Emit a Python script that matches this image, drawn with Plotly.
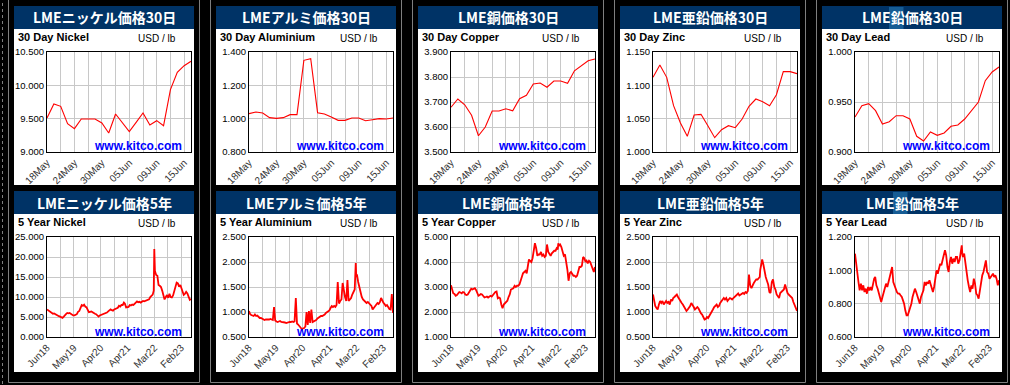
import plotly.graph_objects as go

W, H = 1010, 385

# ---------------- data ----------------
days_30 = ["18May", "19May", "22May", "23May", "24May", "25May", "26May", "29May",
           "30May", "31May", "01Jun", "02Jun", "05Jun", "06Jun", "07Jun", "08Jun",
           "09Jun", "12Jun", "13Jun", "14Jun", "15Jun", "16Jun"]

nickel_30 = [9.51, 9.72, 9.685, 9.425, 9.35, 9.495, 9.495, 9.495, 9.435, 9.285, 9.57,
             9.435, 9.305, 9.445, 9.585, 9.405, 9.47, 9.395, 9.935, 10.195, 10.295, 10.36]
aluminium_30 = [1.03, 1.04, 1.034, 1.006, 1.002, 1.006, 1.024, 1.024, 1.35, 1.36, 1.036,
                1.028, 1.01, 0.99, 0.99, 1.004, 1.004, 0.988, 0.994, 1.0, 0.998, 1.004]
copper_30 = [3.679, 3.712, 3.689, 3.647, 3.565, 3.6, 3.664, 3.664, 3.673, 3.665, 3.713,
             3.727, 3.772, 3.776, 3.759, 3.784, 3.784, 3.775, 3.825, 3.844, 3.865, 3.872]
zinc_30 = [1.112, 1.1305, 1.112, 1.0695, 1.0435, 1.0235, 1.0555, 1.0565, 1.0395, 1.0215,
           1.0335, 1.0395, 1.0365, 1.0495, 1.0685, 1.0795, 1.0755, 1.0695, 1.086, 1.1205,
           1.1205, 1.1175]
lead_30 = [0.935, 0.9463, 0.9483, 0.9413, 0.928, 0.9303, 0.9363, 0.9363, 0.933, 0.9157,
           0.911, 0.92, 0.9167, 0.919, 0.9257, 0.927, 0.933, 0.9413, 0.95, 0.9713, 0.98, 0.985]

dates_5y = [
    "2018-06-18", "2018-07-01", "2018-07-16", "2018-08-01", "2018-08-16", "2018-09-01",
    "2018-09-16", "2018-10-01", "2018-10-16", "2018-11-01", "2018-11-16", "2018-12-01",
    "2018-12-16",
    "2019-01-01", "2019-01-16", "2019-02-01", "2019-02-16", "2019-03-01", "2019-03-16",
    "2019-04-01", "2019-04-16", "2019-05-01", "2019-05-16", "2019-06-01", "2019-06-16",
    "2019-07-01", "2019-07-16", "2019-08-01", "2019-08-16", "2019-09-01", "2019-09-16",
    "2019-10-01", "2019-10-16", "2019-11-01", "2019-11-16", "2019-12-01", "2019-12-16",
    "2020-01-01", "2020-01-16", "2020-02-01", "2020-02-16", "2020-03-01", "2020-03-16",
    "2020-04-01", "2020-04-16", "2020-05-01", "2020-05-16", "2020-06-01", "2020-06-16",
    "2020-07-01", "2020-07-16", "2020-08-01", "2020-08-16", "2020-09-01", "2020-09-16",
    "2020-10-01", "2020-10-16", "2020-11-01", "2020-11-16", "2020-12-01", "2020-12-16",
    "2021-01-01", "2021-01-16", "2021-02-01", "2021-02-16", "2021-03-01", "2021-03-16",
    "2021-04-01", "2021-04-16", "2021-05-01", "2021-05-16", "2021-06-01", "2021-06-16",
    "2021-07-01", "2021-07-16", "2021-08-01", "2021-08-16", "2021-09-01", "2021-09-16",
    "2021-10-01", "2021-10-16", "2021-11-01", "2021-11-16", "2021-12-01", "2021-12-16",
    "2022-01-01", "2022-01-16", "2022-02-01", "2022-02-16", "2022-03-01", "2022-03-08",
    "2022-03-16", "2022-04-01", "2022-04-16", "2022-05-01", "2022-05-16", "2022-06-01",
    "2022-06-16", "2022-07-01", "2022-07-16", "2022-08-01", "2022-08-16", "2022-09-01",
    "2022-09-16", "2022-10-01", "2022-10-16", "2022-11-01", "2022-11-16", "2022-12-01",
    "2022-12-16",
    "2023-01-01", "2023-01-16", "2023-02-01", "2023-02-16", "2023-03-01", "2023-03-16",
    "2023-04-01", "2023-04-16", "2023-05-01", "2023-05-16", "2023-06-01", "2023-06-16",
]

nickel_5y = [
    6.9, 6.7, 6.3, 6.1, 5.9, 5.8, 5.9, 5.7, 5.6, 5.2, 5.2, 5.1, 4.9,
    4.8, 5.1, 5.6, 5.8, 6.0, 5.9, 6.0, 5.8, 5.5, 5.4, 5.4, 5.6, 5.7, 6.3, 6.5, 7.2, 8.0, 7.8, 8.1, 7.6, 7.4, 6.8, 6.2, 6.3,
    6.4, 6.2, 5.9, 5.8, 5.7, 5.3, 5.1, 5.4, 5.5, 5.6, 5.8, 5.9, 6.0, 6.1, 6.4, 6.6, 6.9, 6.7, 6.6, 6.9, 7.0, 7.2, 7.3, 7.8,
    7.6, 8.0, 8.0, 8.6, 8.3, 7.4, 7.4, 7.5, 8.0, 7.9, 8.1, 8.0, 8.3, 8.6, 8.9, 8.7, 8.8, 8.6, 8.8, 9.0, 8.9, 9.0, 9.0, 9.1,
    9.4, 10.0, 10.3, 10.6, 11.6, 22.0, 16.5, 15.5, 15.3, 13.0, 12.8, 12.5, 11.6, 10.0, 9.4, 10.0, 10.5, 9.8, 10.8, 10.0, 9.9, 10.4, 11.5, 12.8, 13.6,
    13.4, 12.6, 13.0, 12.0, 11.0, 10.5, 10.8, 11.3, 10.9, 9.8, 9.3, 9.5,
]
aluminium_5y = [
    1.02, 0.96, 0.94, 0.93, 0.92, 0.95, 0.92, 0.93, 0.91, 0.88, 0.88, 0.87, 0.86,
    0.84, 0.85, 0.85, 0.84, 0.85, 0.86, 0.85, 0.84, 1.10, 0.83, 0.81, 0.80, 0.81, 0.82, 0.80, 0.80, 0.79, 0.79, 0.78, 0.79, 0.79, 0.80, 0.80, 0.81,
    0.80, 0.81, 1.28, 0.77, 0.75, 0.72, 0.67, 0.66, 0.67, 0.68, 0.71, 1.00, 0.74, 1.02, 0.78, 1.05, 0.80, 0.81, 0.82, 0.84, 0.87, 0.89, 0.91, 0.92,
    0.92, 0.93, 0.95, 0.98, 1.00, 1.01, 1.03, 1.08, 1.12, 1.10, 1.12, 1.10, 1.14, 1.60, 1.17, 1.22, 1.25, 1.58, 1.40, 1.30, 1.22, 1.64, 1.22, 1.25,
    1.28, 1.35, 1.42, 1.45, 1.98, 1.70, 1.75, 1.60, 1.50, 1.38, 1.30, 1.25, 1.22, 1.20, 1.18, 1.20, 1.18, 1.15, 1.12, 1.05, 1.08, 1.12, 1.15, 1.18, 1.16,
    1.20, 1.28, 1.22, 1.18, 1.16, 1.12, 1.14, 1.10, 1.06, 1.05, 1.36, 0.98,
]
copper_5y = [
    3.07, 2.85, 2.75, 2.72, 2.65, 2.68, 2.75, 2.80, 2.78, 2.75, 2.80, 2.78, 2.70,
    2.68, 2.70, 2.78, 2.88, 2.93, 2.90, 2.92, 2.95, 2.88, 2.75, 2.65, 2.68, 2.72, 2.70, 2.62, 2.58, 2.60, 2.62, 2.58, 2.62, 2.65, 2.62, 2.68, 2.78,
    2.80, 2.82, 2.55, 2.58, 2.55, 2.30, 2.15, 2.30, 2.35, 2.40, 2.45, 2.60, 2.70, 2.90, 2.92, 2.95, 3.05, 3.00, 3.05, 3.05, 3.10, 3.25, 3.45, 3.55,
    3.60, 3.65, 3.55, 3.80, 4.10, 4.05, 4.00, 4.15, 4.45, 4.75, 4.55, 4.25, 4.30, 4.30, 4.40, 4.25, 4.30, 4.20, 4.25, 4.70, 4.40, 4.30, 4.25, 4.35,
    4.40, 4.45, 4.45, 4.55, 4.50, 4.75, 4.65, 4.70, 4.60, 4.35, 4.25, 4.30, 4.05, 3.70, 3.25, 3.55, 3.60, 3.50, 3.45, 3.45, 3.40, 3.45, 3.70, 3.80, 3.80,
    3.85, 4.20, 4.15, 4.00, 4.05, 3.95, 4.05, 4.00, 3.85, 3.70, 3.60, 3.80,
]
zinc_5y = [
    1.35, 1.25, 1.12, 1.08, 1.05, 1.15, 1.22, 1.18, 1.22, 1.15, 1.20, 1.22, 1.18,
    1.20, 1.15, 1.25, 1.22, 1.28, 1.30, 1.32, 1.35, 1.30, 1.25, 1.20, 1.18, 1.15, 1.10, 1.05, 1.02, 1.05, 1.08, 1.12, 1.18, 1.15, 1.10, 1.05, 1.08,
    1.10, 1.07, 1.00, 0.97, 0.95, 0.90, 0.85, 0.86, 0.90, 0.88, 0.92, 0.95, 1.00, 1.05, 1.10, 1.12, 1.15, 1.10, 1.12, 1.18, 1.22, 1.25, 1.28, 1.25,
    1.28, 1.22, 1.25, 1.28, 1.27, 1.25, 1.28, 1.30, 1.33, 1.35, 1.37, 1.33, 1.35, 1.37, 1.38, 1.36, 1.40, 1.38, 1.42, 1.75, 1.52, 1.48, 1.55, 1.58,
    1.62, 1.65, 1.65, 1.68, 1.70, 1.85, 1.90, 2.05, 1.95, 1.78, 1.70, 1.62, 1.55, 1.40, 1.38, 1.60, 1.65, 1.50, 1.45, 1.35, 1.30, 1.28, 1.38, 1.40, 1.42,
    1.45, 1.55, 1.45, 1.38, 1.35, 1.32, 1.30, 1.28, 1.20, 1.15, 1.10, 1.02,
]
lead_5y = [
    1.10, 1.04, 0.97, 0.93, 0.88, 0.92, 0.88, 0.91, 0.87, 0.89, 0.86, 0.90, 0.88,
    0.90, 0.88, 0.93, 0.95, 0.96, 0.91, 0.89, 0.86, 0.84, 0.81, 0.84, 0.87, 0.89, 0.92, 0.90, 0.94, 0.96, 0.99, 1.02, 0.93, 0.91, 0.88, 0.87, 0.86,
    0.86, 0.85, 0.84, 0.82, 0.80, 0.76, 0.73, 0.73, 0.75, 0.77, 0.80, 0.84, 0.86, 0.89, 0.87, 0.85, 0.82, 0.80, 0.84, 0.86, 0.88, 0.93, 0.91, 0.93,
    0.92, 0.94, 0.91, 0.90, 0.87, 0.90, 0.95, 1.00, 0.98, 1.02, 1.04, 1.03, 1.07, 1.09, 1.12, 1.09, 1.02, 0.99, 1.05, 1.08, 1.04, 1.07, 1.05, 1.08,
    1.08, 1.04, 1.06, 1.10, 1.15, 1.10, 1.08, 1.10, 1.05, 0.97, 0.94, 0.90, 0.87, 0.91, 0.89, 0.95, 0.92, 0.86, 0.85, 0.83, 0.88, 0.93, 0.97, 0.99, 1.02,
    1.06, 0.99, 0.98, 0.95, 0.96, 0.97, 0.98, 0.96, 0.97, 0.95, 0.91, 0.94,
]

titles_30 = ["LMEニッケル価格30日", "LMEアルミ価格30日", "LME銅価格30日", "LME亜鉛価格30日", "LME鉛価格30日"]
titles_5y = ["LMEニッケル価格5年", "LMEアルミ価格5年", "LME銅価格5年", "LME亜鉛価格5年", "LME鉛価格5年"]
subs_30 = ["30 Day Nickel", "30 Day Aluminium", "30 Day Copper", "30 Day Zinc", "30 Day Lead"]
subs_5y = ["5 Year Nickel", "5 Year Aluminium", "5 Year Copper", "5 Year Zinc", "5 Year Lead"]
unit_label = "USD / lb"
site_label = "www.kitco.com"

series_30 = [nickel_30, aluminium_30, copper_30, zinc_30, lead_30]
series_5y = [nickel_5y, aluminium_5y, copper_5y, zinc_5y, lead_5y]
yscale_30 = [(9.0, 10.5, 0.5), (0.8, 1.4, 0.2), (3.5, 3.9, 0.1), (1.0, 1.15, 0.05), (0.9, 1.0, 0.05)]
yscale_5y = [(0.0, 25.0, 5.0), (0.5, 2.5, 0.5), (1.0, 5.0, 1.0), (0.5, 2.5, 0.5), (0.6, 1.2, 0.2)]

grid_dates_5y = ["2018-06-18", "2018-12-05", "2019-05-24", "2019-11-10", "2020-04-28",
                 "2020-10-16", "2021-04-03", "2021-09-21", "2022-03-09", "2022-08-26", "2023-02-11"]
grid_text_5y = ["Jun18", "", "May19", "", "Apr20", "", "Apr21", "", "Mar22", "", "Feb23"]

# ---------------- figure ----------------
NAVY = "#003366"
GRID = "#c8c8c8"
GRAY = "#7f7f7f"
TICKFONT = "Liberation Sans"
JPFONT = "Noto Sans CJK JP"


def px(x):
    return x / W


def py(y):
    return 1 - y / H


fig = go.Figure()
shapes = []
annotations = []
layout_axes = {}

# column frames
for c in range(5):
    shapes.append(dict(type="rect", xref="paper", yref="paper",
                       x0=px(8.5 + 202 * c), x1=px(199.5 + 202 * c), y0=py(382.5), y1=py(-5),
                       line=dict(color=GRAY, width=1), fillcolor="rgba(0,0,0,0)", layer="below"))
shapes.append(dict(type="line", xref="paper", yref="paper", x0=px(2.5), x1=px(2.5),
                   y0=py(384), y1=py(-5), line=dict(color=GRAY, width=1, dash="dot"), layer="below"))

panel_bottom = [185, 372]

for k in range(10):
    r, c = divmod(k, 5)
    L = 14 + 202 * c
    T = 6 + 185 * r
    n = k + 1
    xname = "x" if n == 1 else f"x{n}"
    yname = "y" if n == 1 else f"y{n}"
    xkey = "xaxis" if n == 1 else f"xaxis{n}"
    ykey = "yaxis" if n == 1 else f"yaxis{n}"

    # panel background and title bar
    shapes.append(dict(type="rect", xref="paper", yref="paper", x0=px(L), x1=px(L + 180),
                       y0=py(panel_bottom[r]), y1=py(T), fillcolor="white", line=dict(width=0),
                       layer="below"))
    shapes.append(dict(type="rect", xref="paper", yref="paper", x0=px(L), x1=px(L + 180),
                       y0=py(T + 23), y1=py(T), fillcolor=NAVY, line=dict(width=0), layer="below"))
    if c == 4:
        hx = [67, 71][r]
        shapes.append(dict(type="rect", xref="paper", yref="paper", x0=px(L + hx), x1=px(L + hx + 14.5),
                           y0=py(T + 23), y1=py(T + 1), fillcolor="#165c94", line=dict(width=0),
                           layer="below"))

    title = (titles_30 if r == 0 else titles_5y)[c]
    sub = (subs_30 if r == 0 else subs_5y)[c]
    annotations.append(dict(xref="paper", yref="paper", x=px(L + 90), y=py(T + 11.5),
                            text=f"<b>{title}</b>", showarrow=False, xanchor="center", yanchor="middle",
                            font=dict(family=JPFONT, size=14, color="white")))
    annotations.append(dict(xref="paper", yref="paper", x=px(L + 2), y=py(T + 31),
                            text=f"<b>{sub}</b>", showarrow=False, xanchor="left", yanchor="middle",
                            font=dict(family=TICKFONT, size=11, color="black")))
    annotations.append(dict(xref="paper", yref="paper", x=px(L + 122), y=py(T + 32),
                            text=unit_label, showarrow=False, xanchor="left", yanchor="middle",
                            font=dict(family=TICKFONT, size=10, color="black")))
    annotations.append(dict(xref="paper", yref="paper", x=px(L + 170), y=py(T + 140.5),
                            text=f"<b>{site_label}</b>", showarrow=False, xanchor="right", yanchor="middle",
                            font=dict(family=TICKFONT, size=12, color="#0000ff")))

    dom_x = [px(L + 33), px(L + 177)]
    dom_y = [py(T + 146), py(T + 46)]

    if r == 0:
        yv = series_30[c]
        lo, hi, dt = yscale_30[c]
        fig.add_trace(go.Scatter(x=days_30, y=yv, mode="lines", xaxis=xname, yaxis=yname,
                                 line=dict(color="#ff0000", width=1.1), showlegend=False,
                                 hoverinfo="skip"))
        tickvals = days_30[0:21:2]
        ticktext = [d if i % 4 == 0 else "" for i, d in enumerate(days_30[0:21]) if i % 2 == 0]
        xa = dict(type="category", range=[0, len(days_30) - 1], tickvals=tickvals, ticktext=ticktext)
    else:
        yv = series_5y[c]
        lo, hi, dt = yscale_5y[c]
        fig.add_trace(go.Scatter(x=dates_5y, y=yv, mode="lines", xaxis=xname, yaxis=yname,
                                 line=dict(color="#ff0000", width=1.8), showlegend=False,
                                 hoverinfo="skip"))
        xa = dict(type="date", range=[dates_5y[0], dates_5y[-1]], tickvals=grid_dates_5y,
                  ticktext=grid_text_5y)

    xa.update(domain=dom_x, anchor=yname, showgrid=True, gridcolor=GRID, gridwidth=1,
              showline=True, mirror=True, linecolor="black", linewidth=1, zeroline=False,
              ticks="", tickangle=-45, tickfont=dict(family=TICKFONT, size=10, color="#333333"),
              fixedrange=True, automargin=False)
    ya = dict(domain=dom_y, anchor=xname, range=[lo, hi], tick0=lo, dtick=dt, tickformat=".3f",
              showgrid=True, gridcolor=GRID, gridwidth=1, showline=True, mirror=True,
              linecolor="black", linewidth=1, zeroline=False, ticks="",
              tickfont=dict(family=TICKFONT, size=9.5, color="black"), fixedrange=True,
              automargin=False)
    layout_axes[xkey] = xa
    layout_axes[ykey] = ya

fig.update_layout(width=W, height=H, autosize=False,
                  margin=dict(l=0, r=0, t=0, b=0, pad=0, autoexpand=False),
                  paper_bgcolor="black", plot_bgcolor="white", showlegend=False,
                  shapes=shapes, annotations=annotations, **layout_axes)

fig.write_html("out.html", config={"displayModeBar": False, "staticPlot": True})
